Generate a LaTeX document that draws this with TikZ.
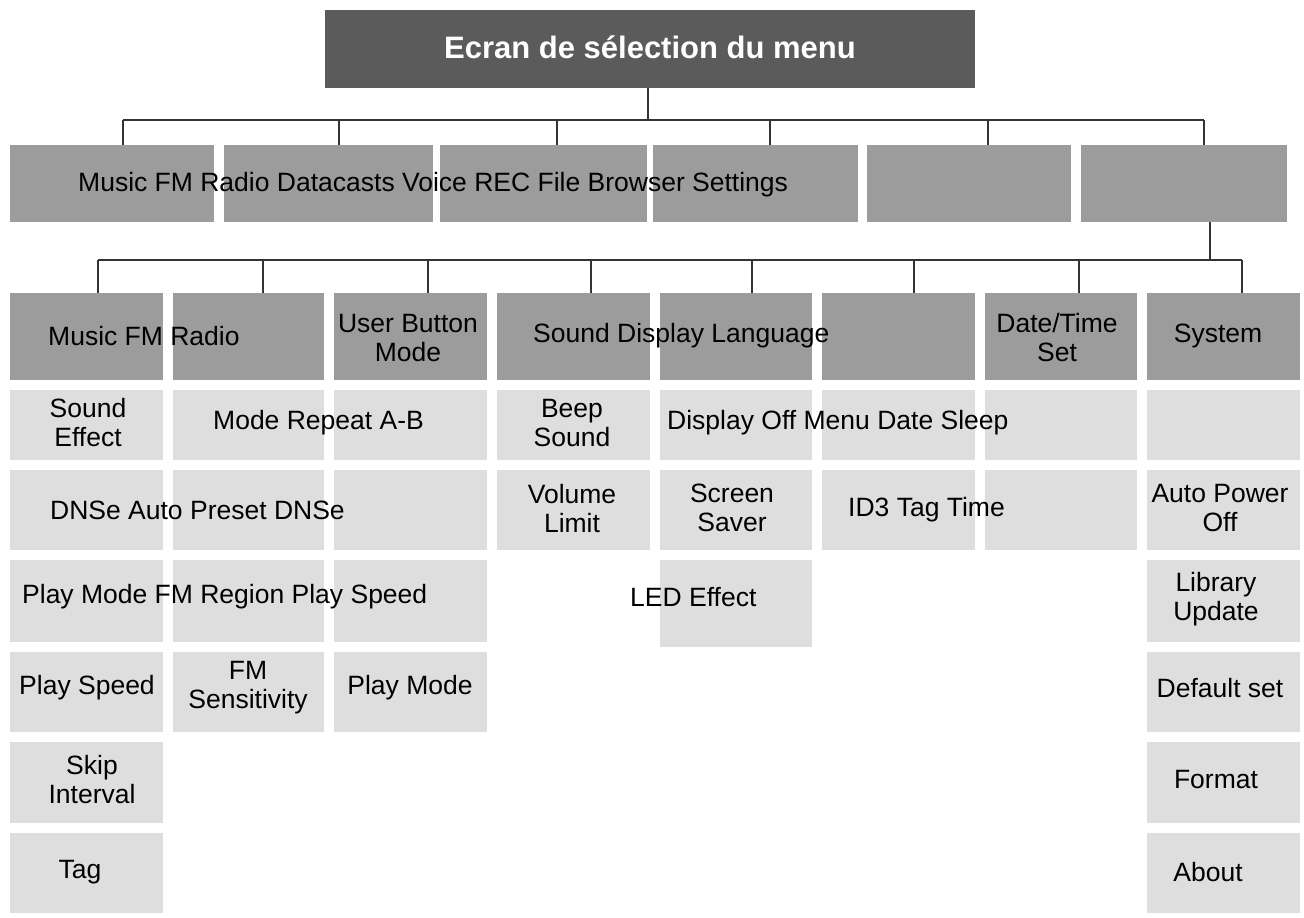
\documentclass[tikz,border=0pt]{standalone}
\usepackage{fontspec}
\setmainfont{Liberation Sans}
\begin{document}
\begin{tikzpicture}[x=1pt,y=-1pt,
  lbl/.style={font=\fontsize{26.5}{29}\selectfont,inner sep=0pt,align=center},
  ln/.style={draw=black!80,line width=1.6pt}]
\useasboundingbox (0,0) rectangle (1304,918);
\definecolor{dk}{HTML}{5B5B5B}\definecolor{md}{HTML}{9C9C9C}\definecolor{lt}{HTML}{DEDEDE}
\newcommand\B[6]{\node[fill=#6,inner sep=0pt,minimum width={#4-#2},minimum height={#5-#3}] (#1) at ({(#2+#4)/2},{(#3+#5)/2}) {};}
% top
\B{top}{325}{10}{975}{88}{dk}
\node[lbl,text=white,font=\fontsize{31}{32}\selectfont\bfseries] (tt) at (650,47) {Ecran de sélection du menu};
% row1
\B{r1a}{10}{145}{214}{222}{md}\B{r1b}{224}{145}{433}{222}{md}\B{r1c}{440}{145}{647}{222}{md}
\B{r1d}{653}{145}{858}{222}{md}\B{r1e}{867}{145}{1071}{222}{md}\B{r1f}{1081}{145}{1287}{222}{md}
\coordinate (h0) at (648,88);
\coordinate (h1) at (648,120);
\draw[ln] (h0) -- (h1);
\draw[ln] (123,120) -- (1204,120);
\foreach \x/\n in {123/r1a,339/r1b,557/r1c,770/r1d,988/r1e,1204/r1f}{\draw[ln] (\x,120) -- (\x,145);}
\node[lbl,anchor=west] (t1) at (78,185) {Music FM Radio Datacasts Voice REC File Browser Settings};
% row2
\def\cols{10/163/a,173/324/b,334/487/c,497/650/d,660/812/e,822/975/f,985/1137/g,1147/1300/h}
\foreach \l/\r/\n in \cols {\B{r2\n}{\l}{293}{\r}{380}{md}}
\draw[ln] (1210,222) -- (1210,260);
\draw[ln] (98,260) -- (1242,260);
\foreach \x in {98,263,428,591,752,914,1079,1242}{\draw[ln] (\x,260) -- (\x,293);}
\node[lbl,anchor=west] at (48,336) {Music FM Radio};
\node[lbl] at (408,338) {User Button\\Mode};
\node[lbl,anchor=west] at (533,336) {Sound Display Language};
\node[lbl] at (1057,338) {Date/Time\\Set};
\node[lbl] at (1218,336) {System};
% row3
\foreach \l/\r/\n in \cols {\B{r3\n}{\l}{390}{\r}{460}{lt}}
\node[lbl] at (88,423) {Sound\\Effect};
\node[lbl,anchor=west] at (213,423) {Mode Repeat A-B};
\node[lbl] at (572,423) {Beep\\Sound};
\node[lbl,anchor=west] at (667,423) {Display Off Menu Date Sleep};
% row4
\foreach \l/\r/\n in \cols {\B{r4\n}{\l}{470}{\r}{550}{lt}}
\node[lbl,anchor=west] at (50,510) {DNSe Auto Preset DNSe};
\node[lbl] at (572,508) {Volume\\Limit};
\node[lbl] at (732,508) {Screen\\Saver};
\node[lbl,anchor=west] at (848,510) {ID3 Tag Time};
\node[lbl] at (1220,508) {Auto Power\\Off};
% row5
\foreach \l/\r/\n in {10/163/a,173/324/b,334/487/c,1147/1300/h}{\B{r5\n}{\l}{560}{\r}{642}{lt}}
\B{r5e}{660}{560}{812}{647}{lt}
\node[lbl,anchor=west] at (22,597) {Play Mode FM Region Play Speed};
\node[lbl,anchor=west] at (630,597) {LED Effect};
\node[lbl] at (1216,599) {Library\\Update};
% row6
\foreach \l/\r/\n in {10/163/a,173/324/b,334/487/c,1147/1300/h}{\B{r6\n}{\l}{652}{\r}{732}{lt}}
\node[lbl] at (87,688) {Play Speed};
\node[lbl] at (248,688) {FM\\Sensitivity};
\node[lbl] at (410,688) {Play Mode};
\node[lbl] at (1220,688) {Default set};
% row7-8
\foreach \l/\r/\n in {10/163/a,1147/1300/h}{\B{r7\n}{\l}{742}{\r}{823}{lt}\B{r8\n}{\l}{833}{\r}{913}{lt}}
\node[lbl] at (92,780) {Skip\\Interval};
\node[lbl] at (1216,780) {Format};
\node[lbl] at (80,872) {Tag};
\node[lbl] at (1208,872) {About};
\end{tikzpicture}
\end{document}
